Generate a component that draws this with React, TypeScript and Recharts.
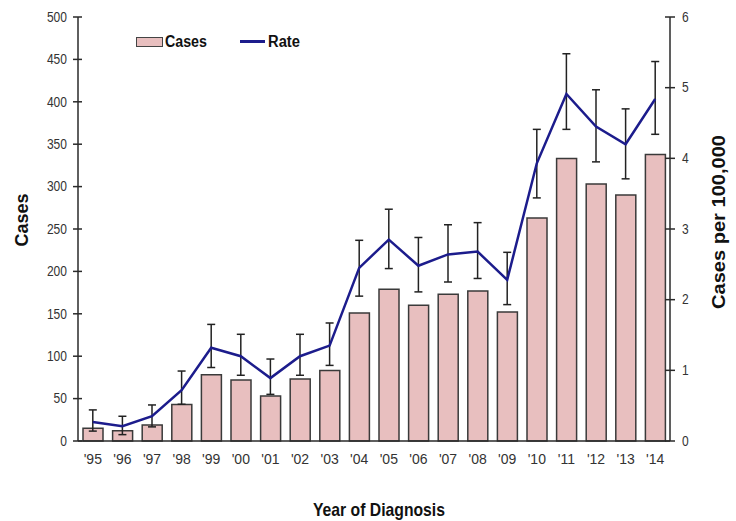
import {
  ComposedChart, Bar, Line, ErrorBar, XAxis, YAxis, Legend,
} from "recharts";

const years = ["'95", "'96", "'97", "'98", "'99", "'00", "'01", "'02", "'03", "'04", "'05", "'06", "'07", "'08", "'09", "'10", "'11", "'12", "'13", "'14"];
const cases = [15, 12, 19, 43, 78, 72, 53, 73, 83, 151, 179, 160, 173, 177, 152, 263, 333, 303, 290, 338];
const rate = [0.27, 0.21, 0.35, 0.72, 1.32, 1.2, 0.89, 1.2, 1.35, 2.45, 2.85, 2.48, 2.64, 2.68, 2.28, 3.93, 4.91, 4.45, 4.2, 4.84];
// 95% confidence limits for the rate
const rateLow = [0.14, 0.09, 0.2, 0.52, 1.04, 0.93, 0.66, 0.93, 1.07, 2.05, 2.44, 2.11, 2.25, 2.3, 1.93, 3.44, 4.41, 3.95, 3.71, 4.34];
const rateHigh = [0.44, 0.35, 0.51, 0.99, 1.65, 1.51, 1.16, 1.51, 1.67, 2.84, 3.28, 2.88, 3.06, 3.09, 2.67, 4.41, 5.48, 4.97, 4.7, 5.37];

const casesTicks = [0, 50, 100, 150, 200, 250, 300, 350, 400, 450, 500];
const rateTicks = [0, 1, 2, 3, 4, 5, 6];
const edgeTicks = years.map((_, i) => i).concat(years.length);

const FONT = "'Liberation Sans', Arial, sans-serif";
const AXIS = "#2a2a2a";
const LABEL = "#333";
const BAR_FILL = "#E8BFBF";
const LINE = "#1C1C8C";

const data = years.map((year, i) => ({
  year,
  cases: cases[i],
  rate: rate[i],
  err: [rate[i] - rateLow[i], rateHigh[i] - rate[i]],
}));

const tickStyle = { fontSize: 14, fill: LABEL, fontFamily: FONT };

// y-axis numbers in the original are set in a condensed face
function NarrowTick({ x, y, payload, textAnchor }: any) {
  return (
    <text
      transform={`translate(${x},${y}) scale(0.86,1)`}
      textAnchor={textAnchor}
      dominantBaseline="central"
      fontFamily={FONT}
      fontSize={14}
      fill={LABEL}
    >
      {payload.value}
    </text>
  );
}

function ChartLegend() {
  const txt: any = {
    position: "absolute", top: -2, fontFamily: FONT, fontWeight: "bold", fontSize: 16,
    color: "#111", transformOrigin: "left center", whiteSpace: "nowrap", lineHeight: "18px",
  };
  return (
    <div style={{ position: "relative", width: 180, height: 14 }}>
      <span style={{ position: "absolute", left: 0, top: 2, width: 25, height: 8, background: BAR_FILL, border: "1px solid #444" }} />
      <span style={{ ...txt, left: 29, transform: "scaleX(0.89)" }}>Cases</span>
      <span style={{ position: "absolute", left: 104, top: 5, width: 25, height: 3, background: LINE }} />
      <span style={{ ...txt, left: 132, transform: "scaleX(0.92)" }}>Rate</span>
    </div>
  );
}

export default function App() {
  return (
    <div style={{ position: "absolute", left: 0, top: 0, background: "#fff" }}>
      <ComposedChart
        width={736}
        height={521}
        data={data}
        margin={{ top: 17, right: 0, left: 0, bottom: 0 }}
        barSize={20}
      >
        {/* top frame line */}
        <XAxis xAxisId="top" dataKey="year" orientation="top" height={0} tick={false} tickLine={false} axisLine={{ stroke: AXIS, strokeWidth: 1.5 }} />
        {/* category boundary tick marks, Excel style */}
        <XAxis
          xAxisId="edges"
          type="number"
          domain={[0, years.length]}
          ticks={edgeTicks}
          height={0}
          tick={false}
          axisLine={false}
          tickSize={9}
          tickLine={{ stroke: AXIS, strokeWidth: 1.5, transform: "translate(0,-4)" }}
        />
        <XAxis
          dataKey="year"
          height={80}
          tickLine={false}
          tickSize={0}
          tickMargin={13}
          interval={0}
          tick={tickStyle}
          axisLine={{ stroke: AXIS, strokeWidth: 1.5 }}
          label={() => (
            <text x={379} y={516} textAnchor="middle" fontFamily={FONT} fontWeight="bold" fontSize={19} fill="#111"
              textLength={132} lengthAdjust="spacingAndGlyphs">
              Year of Diagnosis
            </text>
          )}
        />
        <YAxis
          yAxisId="cases"
          width={78}
          domain={[0, 500]}
          ticks={casesTicks}
          tick={<NarrowTick />}
          tickSize={9}
          tickMargin={2}
          tickLine={{ stroke: AXIS, strokeWidth: 1.5, transform: "translate(4,0)" }}
          axisLine={{ stroke: AXIS, strokeWidth: 1.5 }}
          label={() => (
            <text x={22} y={220} transform="rotate(-90, 22, 220)" textAnchor="middle" dominantBaseline="central" fontFamily={FONT} fontWeight="bold" fontSize={18} fill="#111">
              Cases
            </text>
          )}
        />
        <YAxis
          yAxisId="rate"
          orientation="right"
          width={66}
          domain={[0, 6]}
          ticks={rateTicks}
          tick={<NarrowTick />}
          tickSize={10}
          tickMargin={2}
          tickLine={{ stroke: AXIS, strokeWidth: 1.5, transform: "translate(-5,0)" }}
          axisLine={{ stroke: AXIS, strokeWidth: 1.5 }}
          label={() => (
            <text x={719} y={222} transform="rotate(-90, 719, 222)" textAnchor="middle" dominantBaseline="central" fontFamily={FONT} fontWeight="bold" fontSize={18} fill="#111"
              textLength={174} lengthAdjust="spacingAndGlyphs">
              Cases per 100,000
            </text>
          )}
        />
        {/* middle/center alignment keeps the legend from shrinking the plot area */}
        <Legend
          layout="horizontal"
          verticalAlign="middle"
          align="center"
          content={() => <ChartLegend />}
          wrapperStyle={{ top: 35, left: 136, width: "auto" }}
        />
        <Bar
          yAxisId="cases"
          dataKey="cases"
          name="Cases"
          fill={BAR_FILL}
          stroke="#3a3a3a"
          strokeWidth={1.5}
          isAnimationActive={false}
        />
        <Line
          yAxisId="rate"
          dataKey="rate"
          name="Rate"
          type="linear"
          stroke={LINE}
          strokeWidth={2.5}
          dot={false}
          activeDot={false}
          isAnimationActive={false}
        >
          <ErrorBar dataKey="err" direction="y" width={4} stroke="#222" strokeWidth={1.5} />
        </Line>
      </ComposedChart>
    </div>
  );
}
